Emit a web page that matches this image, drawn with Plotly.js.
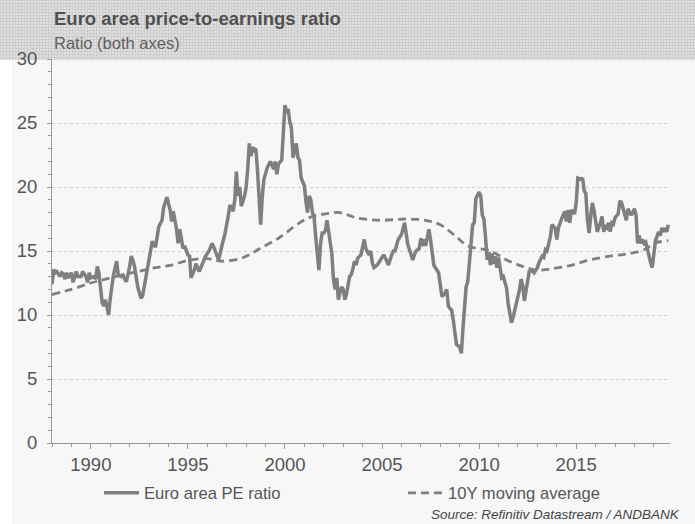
<!DOCTYPE html>
<html>
<head>
<meta charset="utf-8">
<script src="https://cdn.plot.ly/plotly-3.0.1.min.js"></script>
<style>
html,body{margin:0;padding:0;background:#f7f7f7;}
#chart{width:695px;height:524px;}
</style>
</head>
<body>
<div id="chart"></div>
<script>
// ---- Data ----
const peDates = [
"1988-01","1988-02","1988-03","1988-04","1988-06","1988-07","1988-08","1988-09","1988-10","1988-11",
"1989-01","1989-02","1989-04","1989-05","1989-07","1989-08","1989-10","1989-11","1989-12",
"1990-01","1990-03","1990-04","1990-05","1990-06","1990-08","1990-09","1990-10","1990-12",
"1991-01","1991-02","1991-03","1991-05","1991-06","1991-08","1991-09","1991-10","1991-11",
"1992-01","1992-02","1992-03","1992-04","1992-06","1992-08","1992-09","1992-11",
"1993-01","1993-03","1993-05","1993-07","1993-09","1993-10","1993-12",
"1994-02","1994-03","1994-04","1994-06","1994-07","1994-08","1994-10","1994-11",
"1995-01","1995-02","1995-03","1995-05","1995-06","1995-08","1995-10","1995-12",
"1996-02","1996-04","1996-05","1996-07","1996-08","1996-10","1996-12",
"1997-02","1997-03","1997-05","1997-06","1997-07","1997-08","1997-09","1997-10","1997-12",
"1998-01","1998-02","1998-03","1998-04","1998-05","1998-06","1998-07","1998-08","1998-09","1998-10","1998-11","1998-12",
"1999-02","1999-03","1999-04","1999-06","1999-07","1999-08","1999-09","1999-11",
"2000-01","2000-02","2000-03","2000-04","2000-05","2000-06","2000-08","2000-09","2000-10","2000-11",
"2001-01","2001-02","2001-03","2001-04","2001-05","2001-06","2001-07","2001-08","2001-10","2001-11","2001-12",
"2002-01","2002-02","2002-03","2002-04","2002-06","2002-07","2002-08","2002-09","2002-10","2002-12",
"2003-01","2003-02","2003-03","2003-05","2003-06","2003-07","2003-08","2003-09","2003-10","2003-12",
"2004-02","2004-03","2004-05","2004-06","2004-07","2004-08","2004-10","2004-11",
"2005-01","2005-02","2005-04","2005-05","2005-07","2005-08","2005-09","2005-10","2005-11",
"2006-01","2006-02","2006-03","2006-04","2006-05","2006-07","2006-08","2006-09","2006-10","2006-12",
"2007-01","2007-02","2007-03","2007-04","2007-06","2007-07","2007-08","2007-09","2007-11","2007-12",
"2008-02","2008-04","2008-05","2008-06","2008-07","2008-08","2008-09","2008-10","2008-11",
"2009-01","2009-02","2009-03","2009-05","2009-06","2009-07","2009-08","2009-09","2009-10","2009-11",
"2010-01","2010-02","2010-03","2010-04","2010-05","2010-06","2010-07","2010-08","2010-09","2010-10","2010-11","2010-12",
"2011-01","2011-02","2011-03","2011-04","2011-05","2011-06","2011-07","2011-08","2011-09","2011-10","2011-11","2011-12",
"2012-02","2012-03","2012-04","2012-05","2012-06","2012-07","2012-08","2012-10","2012-11",
"2013-01","2013-02","2013-04","2013-05","2013-06","2013-07","2013-09","2013-10","2013-12",
"2014-01","2014-02","2014-03","2014-04","2014-06","2014-07","2014-08","2014-09","2014-10","2014-12",
"2015-01","2015-02","2015-04","2015-05","2015-06","2015-07","2015-08","2015-09","2015-10","2015-11","2015-12",
"2016-01","2016-02","2016-04","2016-05","2016-06","2016-07","2016-08","2016-09","2016-10","2016-11","2016-12",
"2017-01","2017-03","2017-04","2017-05","2017-06","2017-07","2017-08","2017-09","2017-11","2017-12",
"2018-01","2018-02","2018-03","2018-04","2018-05","2018-06","2018-07","2018-08","2018-09","2018-10","2018-11","2018-12",
"2019-01","2019-02","2019-04","2019-05","2019-06","2019-07","2019-08","2019-09","2019-10"
];
const peValues = [
12.4,13.55,13.3,13.4,13.0,13.3,13.2,12.8,13.3,12.9,
13.3,12.55,13.4,13.0,13.0,13.4,13.0,12.55,13.3,
12.9,13.0,12.8,13.8,13.3,11.0,10.7,11.2,10.0,
11.3,12.5,13.1,14.2,13.1,13.0,13.1,12.8,12.6,
13.8,14.6,14.3,13.8,12.2,11.3,11.5,12.9,
14.3,15.75,15.3,16.9,17.4,18.4,19.2,
18.2,17.3,18.1,16.7,15.6,16.7,15.2,15.4,
14.7,14.6,12.9,13.5,14.0,13.4,14.0,14.6,
15.0,15.6,15.3,14.6,14.3,15.4,16.4,
17.8,18.6,18.1,19.0,21.2,19.3,20.0,18.5,19.3,
20.0,21.5,23.4,22.4,23.1,22.9,23.0,21.4,19.0,17.05,19.3,20.6,
21.5,21.8,22.0,21.4,22.0,21.0,21.8,22.1,
26.4,25.8,26.1,25.1,24.6,22.3,23.4,22.3,22.1,20.7,
20.1,18.75,18.0,19.3,19.0,18.0,17.7,16.1,13.5,15.6,16.4,
16.4,16.6,17.4,16.4,14.8,12.8,12.0,12.9,11.2,12.2,
12.0,11.2,11.6,13.0,13.15,13.6,14.2,13.9,14.45,14.7,
15.9,15.2,14.7,15.0,14.1,13.7,13.9,14.1,
14.45,14.7,14.2,13.9,14.7,15.0,15.0,15.6,15.9,
16.3,16.8,17.2,16.3,15.5,14.7,14.3,14.7,15.0,15.2,
16.0,15.4,15.9,15.4,16.7,15.9,15.0,13.9,13.5,13.3,
11.45,11.7,12.0,10.7,10.5,10.4,9.6,8.6,7.7,
7.5,7.0,8.85,12.2,12.6,14.3,16.1,17.05,17.2,19.1,
19.6,19.3,17.8,17.5,16.1,14.3,14.9,13.9,14.8,14.0,14.6,13.7,
14.5,13.4,12.9,13.0,12.4,12.1,10.9,10.1,9.4,9.8,10.3,10.9,
12.0,12.8,12.3,11.1,12.0,12.8,13.4,13.5,13.3,
13.7,14.1,14.6,14.5,15.1,15.0,16.1,17.05,16.8,
15.9,16.8,17.2,17.5,18.1,17.3,18.2,17.2,18.2,17.9,
18.75,20.7,20.6,20.7,19.7,19.5,17.4,16.4,17.7,18.75,18.2,
17.2,16.5,17.2,17.7,16.5,16.9,16.8,17.2,16.5,17.2,17.1,
17.6,17.9,18.9,18.8,18.3,18.0,17.4,18.3,17.8,18.0,
18.3,17.8,15.6,16.2,15.6,15.9,15.6,15.7,15.1,14.8,14.1,13.7,
14.8,15.8,16.5,16.2,16.8,16.5,16.8,16.5,17.05
];
const maDates = [
"1988-01","1989-01","1990-01","1990-10","1991-09","1992-06","1993-05","1994-03","1995-02","1996-01",
"1996-10","1997-09","1998-03","1998-09","1999-09","2000-10","2001-06","2002-02","2002-11","2003-09",
"2004-12","2006-04","2007-04","2008-01","2008-11","2009-06","2010-08","2011-06","2012-04","2013-01",
"2013-09","2014-09","2015-09","2016-10","2017-10","2018-08","2019-01","2019-10"
];
const maValues = [
11.6,12.0,12.5,12.8,13.15,13.4,13.7,13.9,14.3,14.4,
14.2,14.4,14.7,15.15,16.0,17.2,17.7,17.9,18.0,17.6,
17.4,17.5,17.4,17.05,16.1,15.4,15.0,14.3,13.8,13.5,
13.6,13.85,14.3,14.6,14.8,15.15,15.6,15.8
];
const seriesNames = ["Euro area PE ratio", "10Y moving average"];
const yTickVals = [0,5,10,15,20,25,30];
const titleText = "Euro area price-to-earnings ratio";
const subtitleText = "Ratio (both axes)";
const sourceText = "Source: Refinitiv Datastream / ANDBANK";

// ---- Layout geometry helpers (pixels -> paper) ----
const W = 695, H = 524, ML = 52, MR = 25, MT = 59, MB = 81;
const PW = W - ML - MR, PH = H - MT - MB;
const px = x => (x - ML) / PW;
const py = y => (H - MB - y) / PH;

const patternSvg = "<svg xmlns='http://www.w3.org/2000/svg' width='695' height='60'>" +
  "<defs><pattern id='p' width='3' height='3' patternUnits='userSpaceOnUse'>" +
  "<rect width='3' height='3' fill='#e0e0e0'/><rect width='1' height='3' fill='#cdcdcd'/><rect width='3' height='1' fill='#cdcdcd'/>" +
  "</pattern></defs><rect width='695' height='60' fill='url(#p)'/></svg>";
const patternUri = "data:image/svg+xml;charset=utf-8," + encodeURIComponent(patternSvg);

const FONT = "Liberation Sans, Arial, sans-serif";

const traces = [
  {
    x: peDates, y: peValues, type: "scatter", mode: "lines",
    name: seriesNames[0],
    line: {color: "#7f7f7f", width: 3.5},
    legend: "legend"
  },
  {
    x: maDates, y: maValues, type: "scatter", mode: "lines",
    name: seriesNames[1],
    line: {color: "#808080", width: 2.8, dash: "8px,5px", shape: "spline", smoothing: 1},
    legend: "legend2"
  }
];

const legendFont = {family: FONT, size: 16.6, color: "#555555"};

const layout = {
  width: W, height: H,
  margin: {l: ML, r: MR, t: MT, b: MB, pad: 0},
  paper_bgcolor: "#f7f7f7",
  plot_bgcolor: "#f7f7f7",
  font: {family: FONT, color: "#555555", size: 16},
  showlegend: true,
  xaxis: {
    type: "date",
    range: ["1988-01-01", "2019-11-01"],
    tickmode: "linear", tick0: "1990-01-01", dtick: "M60",
    tickformat: "%Y",
    ticks: "outside", ticklen: 5, tickcolor: "#999999", tickwidth: 1,
    minor: {dtick: "M12", tick0: "1988-01-01", ticks: "outside", ticklen: 3, tickcolor: "#999999", showgrid: false},
    showline: true, linecolor: "#999999", linewidth: 1,
    showgrid: false, zeroline: false,
    tickfont: {family: FONT, size: 18.5, color: "#555555"},
    fixedrange: true
  },
  yaxis: {
    range: [0, 30],
    tickmode: "array", tickvals: yTickVals,
    ticks: "outside", ticklen: 4, tickcolor: "#999999", tickwidth: 1,
    minor: {dtick: 1, ticks: "outside", ticklen: 3, tickcolor: "#999999", showgrid: false},
    showline: true, linecolor: "#999999", linewidth: 1,
    showgrid: true, gridcolor: "#cdcdcd", griddash: "dot", gridwidth: 1,
    zeroline: false,
    ticklabelstandoff: 6,
    tickfont: {family: FONT, size: 18.5, color: "#555555"},
    fixedrange: true
  },
  legend: {
    orientation: "h", x: px(99), y: py(493), xanchor: "left", yanchor: "middle",
    bgcolor: "rgba(0,0,0,0)", font: legendFont, itemwidth: 35
  },
  legend2: {
    orientation: "h", x: px(403), y: py(493), xanchor: "left", yanchor: "middle",
    bgcolor: "rgba(0,0,0,0)", font: legendFont, itemwidth: 35
  },
  images: [{
    source: patternUri, xref: "paper", yref: "paper",
    x: px(0), y: py(0), sizex: W / PW, sizey: 60 / PH,
    xanchor: "left", yanchor: "top", sizing: "stretch", layer: "below"
  }],
  shapes: [{
    type: "rect", xref: "paper", yref: "paper", layer: "below",
    x0: px(0), x1: px(12), y0: py(H), y1: py(60),
    fillcolor: "#ffffff", line: {width: 0}
  }],
  annotations: [
    {text: "<b>" + titleText + "</b>", xref: "paper", yref: "paper", x: px(52), y: py(18),
     xanchor: "left", yanchor: "middle", showarrow: false,
     font: {family: FONT, size: 18.5, color: "#505050"}},
    {text: subtitleText, xref: "paper", yref: "paper", x: px(52), y: py(43),
     xanchor: "left", yanchor: "middle", showarrow: false,
     font: {family: FONT, size: 16.5, color: "#606060"}},
    {text: "<i>" + sourceText + "</i>", xref: "paper", yref: "paper", x: px(682), y: py(514),
     xanchor: "right", yanchor: "middle", showarrow: false,
     font: {family: FONT, size: 13.5, color: "#444444"}}
  ]
};

Plotly.newPlot("chart", traces, layout, {displayModeBar: false, staticPlot: true});
</script>
</body>
</html>
